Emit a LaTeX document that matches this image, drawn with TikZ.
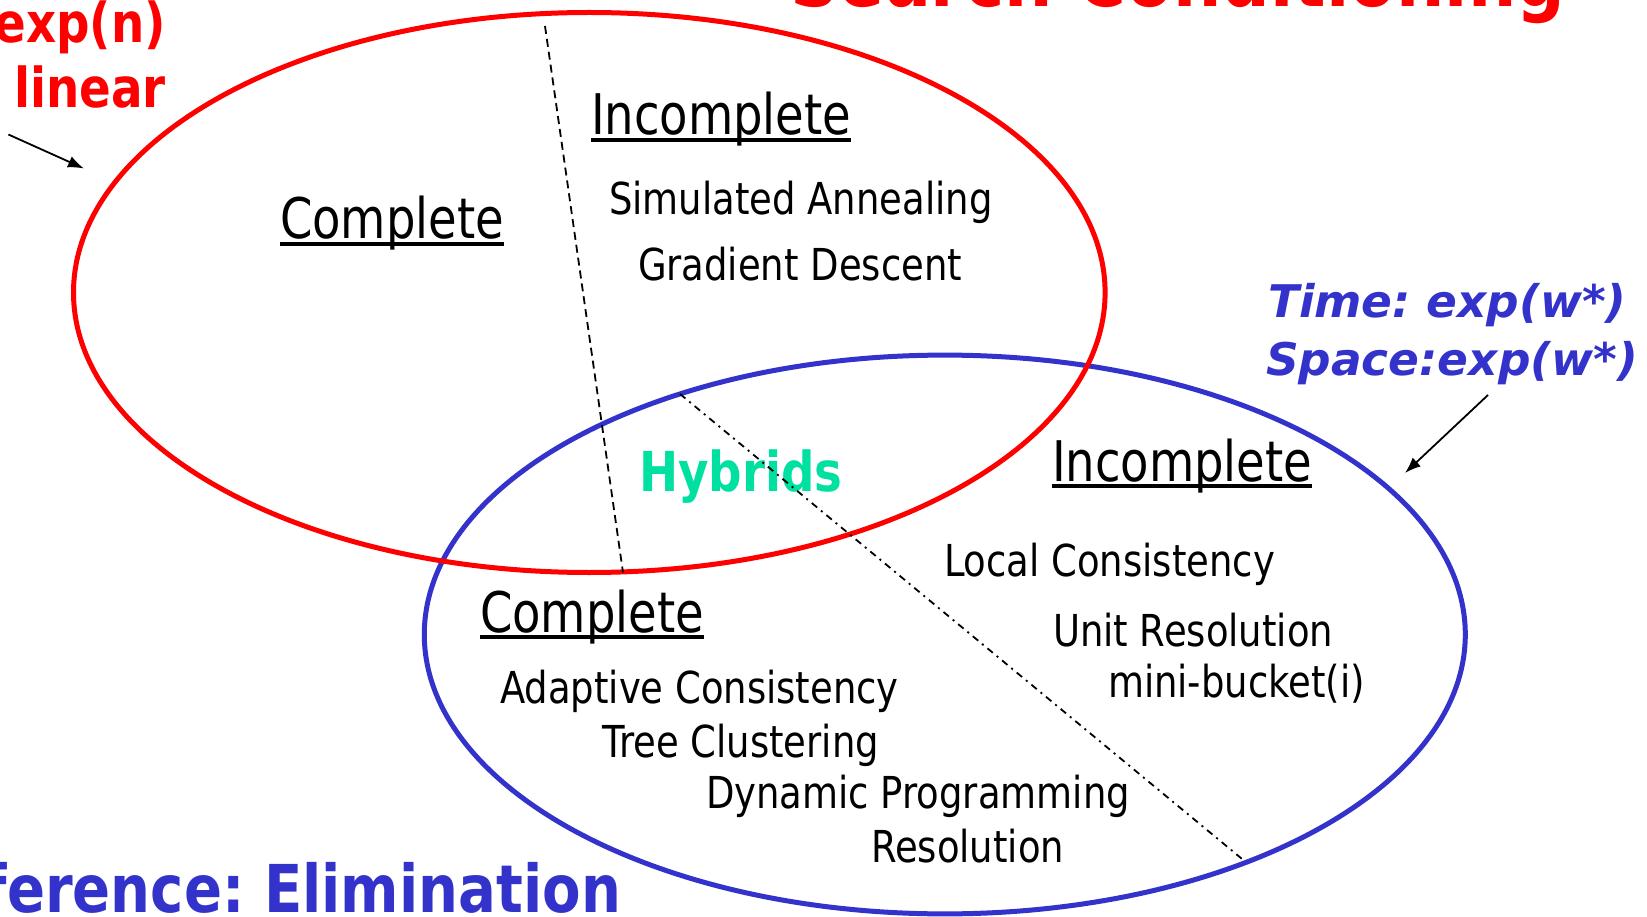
\documentclass[tikz,border=0pt]{standalone}
\usepackage{fontspec}
\setmainfont{DejaVu Sans}[FakeStretch=0.84]
\newfontfamily\headfam{DejaVu Sans}[FakeStretch=0.83]
\newfontfamily\boldfam{DejaVu Sans}[FakeStretch=0.85]
\newfontfamily\obliquefam{DejaVu Sans}[FakeStretch=1.01]
\usetikzlibrary{arrows.meta}
\frenchspacing

\definecolor{searchred}{RGB}{255,0,0}
\definecolor{infblue}{RGB}{51,51,204}
\definecolor{hybridgreen}{RGB}{0,224,160}

\tikzset{
  txt/.style={anchor=base west, inner sep=0pt, outer sep=0pt},
  itemtext/.style={txt, font=\fontsize{44}{44}\selectfont},
  headtext/.style={txt, font=\headfam\fontsize{56}{56}\selectfont},
  redlabel/.style={txt, text=searchred, font=\boldfam\bfseries\fontsize{55}{55}\selectfont},
  bluelabel/.style={txt, text=infblue, font=\obliquefam\bfseries\itshape\fontsize{45}{45}\selectfont},
  uline/.style={line width=3.5pt},
  setline/.style={line width=5pt},
  divider/.style={line width=1.8pt, dash pattern=on 8pt off 5pt},
  divider2/.style={line width=1.8pt, dash pattern=on 7pt off 5pt on 2pt off 5pt},
  pointer/.style={line width=1.8pt, -{Latex[length=16pt,width=12pt]}}
}

\begin{document}
\begin{tikzpicture}[x=1pt,y=-1pt]
  \useasboundingbox (0,0) rectangle (1647,917);
  \clip (0,0) rectangle (1647,917);

  % titles running off the page edge
  \node[txt, anchor=base west, text=searchred,
        font=\boldfam\bfseries\fontsize{80}{80}\selectfont] (title) at (790,7) {Search Conditioning};
  \node[txt, anchor=base east, text=infblue,
        font=\boldfam\bfseries\fontsize{66}{66}\selectfont] (infer) at (621,912) {Inference: Elimination};

  % the two method families
  \draw[setline, infblue] (944.8,634.5) ellipse [x radius=520.5pt, y radius=279.4pt];
  \draw[setline, searchred] (589.3,292.5) ellipse [x radius=515.8pt, y radius=280pt];

  % complexity labels
  \node[redlabel, anchor=base east] (expn) at (166,43) {exp(n)};
  \node[redlabel, anchor=base east] (lin) at (166,108) {linear};
  \node[bluelabel] (time) at (1268,318) {Time: exp(w*)};
  \node[bluelabel] (space) at (1266,375) {Space:exp(w*)};

  % search side
  \node[headtext] (sc) at (280,239) {Complete};
  \node[headtext] (si) at (591,135) {Incomplete};
  \node[itemtext] (sa) at (609,215) {Simulated Annealing};
  \node[itemtext] (gd) at (638,281) {Gradient Descent};

  % inference side
  \node[headtext] (ic) at (480,632) {Complete};
  \node[headtext] (ii) at (1052,481) {Incomplete};
  \node[itemtext] (ac) at (500,703) {Adaptive Consistency};
  \node[itemtext] (tc) at (602,757) {Tree Clustering};
  \node[itemtext] (dp) at (706,808) {Dynamic Programming};
  \node[itemtext] (rs) at (871,862) {Resolution};
  \node[itemtext] (lc) at (944,576) {Local Consistency};
  \node[itemtext] (ur) at (1053,646) {Unit Resolution};
  \node[itemtext] (mb) at (1108,697) {mini-bucket(i)};

  \node[redlabel, text=hybridgreen] (hy) at (639,491) {Hybrids};

  % underlines of the headings
  \foreach \h in {sc,si,ic,ii}
    \draw[uline] ([yshift=-5pt]\h.base west) -- ([yshift=-5pt]\h.base east);

  % complete / incomplete dividers
  \coordinate (d1a) at (545,26);
  \coordinate (d1b) at (623,572.5);
  \coordinate (d2a) at (680,394);
  \coordinate (d2b) at (1244.5,861);
  \draw[divider] (d1a) -- (d1b);
  \draw[divider2] (d2a) -- (d2b);

  % pointers to the ellipses
  \coordinate (p1) at (8.4,134.5);
  \coordinate (p1t) at (84,168.5);
  \coordinate (p2) at (1488,395);
  \coordinate (p2t) at (1405,473);
  \draw[pointer] (p1) -- (p1t);
  \draw[pointer] (p2) -- (p2t);
\end{tikzpicture}
\end{document}
